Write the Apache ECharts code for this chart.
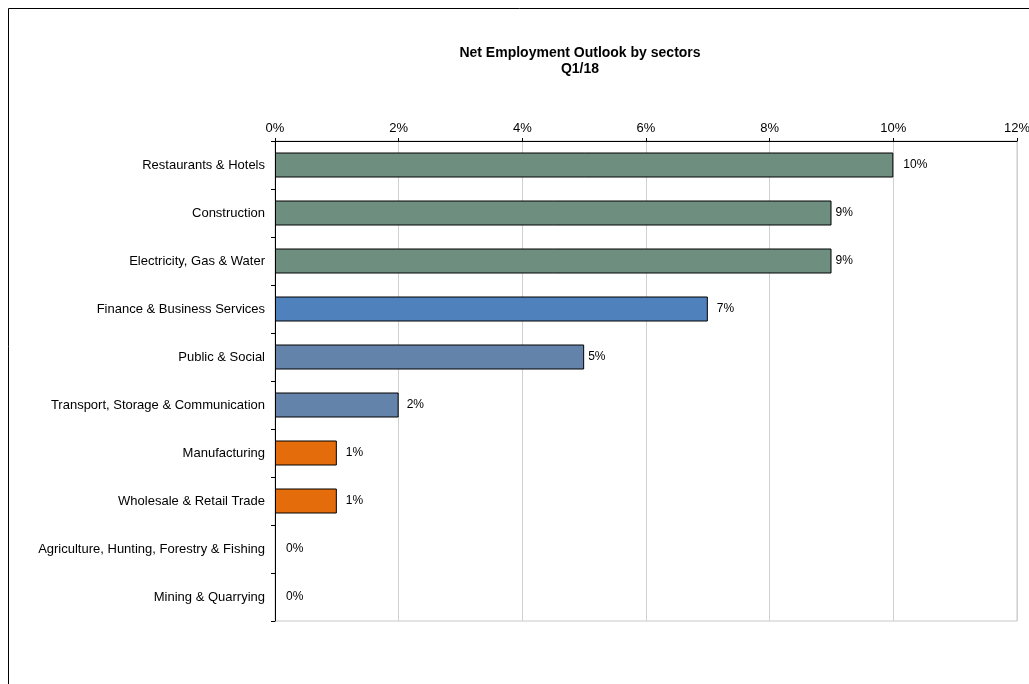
<!DOCTYPE html>
<html><head><meta charset="utf-8">
<script src="https://cdn.jsdelivr.net/npm/echarts@6/dist/echarts.min.js"></script>
<style>html,body{margin:0;padding:0;background:#fff}#c{width:1029px;height:684px}</style>
</head><body><div id="c"></div>
<script>
const categories = ["Restaurants & Hotels","Construction","Electricity, Gas & Water","Finance & Business Services","Public & Social","Transport, Storage & Communication","Manufacturing","Wholesale & Retail Trade","Agriculture, Hunting, Forestry & Fishing","Mining & Quarrying"];
const values = [10, 9, 9, 7, 5, 2, 1, 1, 0, 0];
const xTicks = {min: 0, max: 12, interval: 2};

// styling (not data)
const barColors = ["#6e8f80","#6e8f80","#6e8f80","#4f81bd","#6483ab","#6483ab","#e46c0a","#e46c0a","#6e8f80","#6e8f80"];
const labelGap = [10, 4, 4, 9, 4, 8, 9, 9, 11, 11];
const FONT = 'Liberation Sans, Arial';

const chart = echarts.init(document.getElementById('c'));
chart.setOption({
  animation: false,
  backgroundColor: '#fff',
  graphic: [{type:'rect', shape:{x:8.5,y:8.5,width:1100,height:800}, style:{fill:'none',stroke:'#000',lineWidth:1}, z:-10}],
  title: {
    text: 'Net Employment Outlook by sectors\nQ1/18',
    left: 575, top: 40, textAlign: 'center',
    textStyle: {fontFamily: FONT, fontWeight: 'bold', fontSize: 14, lineHeight: 16, color: '#000'}
  },
  grid: {left: 275, right: 12, top: 141, bottom: 63, show: true, borderColor: '#c8c8c8', borderWidth: 1,
         containLabel: false, outerBoundsMode: 'none'},
  xAxis: {
    type: 'value', position: 'top', min: xTicks.min, max: xTicks.max, interval: xTicks.interval,
    axisLine: {show: true, lineStyle: {color: '#000'}},
    axisTick: {show: true, length: 3, lineStyle: {color: '#000'}},
    splitLine: {show: true, lineStyle: {color: '#d0d0d0', width: 1}},
    axisLabel: {formatter: v => v + '%', fontFamily: FONT, fontSize: 13, color: '#000', margin: 6}
  },
  yAxis: {
    type: 'category', inverse: true, data: categories,
    axisLine: {show: true, lineStyle: {color: '#000'}},
    axisTick: {show: true, length: 4, lineStyle: {color: '#000'}},
    axisLabel: {fontFamily: FONT, fontSize: 13, color: '#000', margin: 10}
  },
  series: [{
    type: 'bar',
    data: values.map((v, i) => ({
      value: v,
      itemStyle: {color: barColors[i], borderWidth: v === 0 ? 0 : 1},
      label: {distance: labelGap[i]}
    })),
    barWidth: 25,
    itemStyle: {borderColor: '#000', borderWidth: 1},
    label: {show: true, position: 'right', formatter: p => p.value + '%', fontFamily: FONT, fontSize: 12, color: '#000'}
  }]
});
</script></body></html>
